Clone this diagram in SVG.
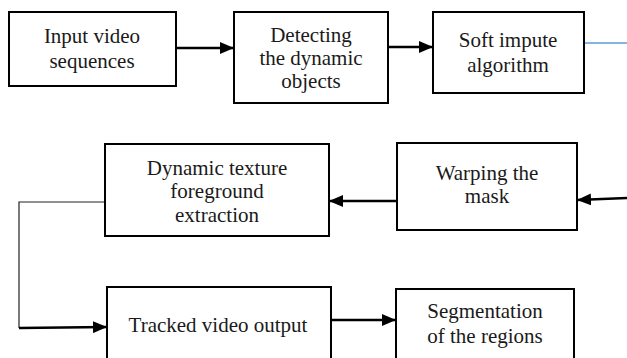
<svg xmlns="http://www.w3.org/2000/svg" width="627" height="358" viewBox="0 0 627 358">
<style>
.box{fill:#fff;stroke:#000;stroke-width:2}
.lbl{font-size:21px;fill:#1a1a1a;text-anchor:middle}
.con{fill:none;stroke:#000;stroke-width:2.5}
.thin{fill:none;stroke:#222;stroke-width:1.2}
</style>
<defs>
<marker id="ah" markerWidth="14" markerHeight="12" refX="14" refY="6" orient="auto" markerUnits="userSpaceOnUse">
<path d="M0,0 L14,6 L0,12 Z" fill="#000"/>
</marker>
</defs>
<rect width="627" height="358" fill="#fff"/>
<g id="connectors">
<line class="con" x1="176" y1="48" x2="234" y2="48" marker-end="url(#ah)"/>
<line class="con" x1="388" y1="47" x2="433" y2="47" marker-end="url(#ah)"/>
<line x1="584" y1="43" x2="627" y2="43" stroke="#5b9bd5" stroke-width="1.5"/>
<line class="con" x1="627" y1="198" x2="577" y2="200" marker-end="url(#ah)"/>
<line class="con" x1="397" y1="201" x2="329" y2="201" marker-end="url(#ah)"/>
<polyline class="thin" points="105,202 19,202 19,328"/>
<line class="con" x1="19" y1="328" x2="107" y2="327" marker-end="url(#ah)"/>
<line class="con" x1="331" y1="320" x2="396" y2="320" marker-end="url(#ah)"/>
</g>
<g font-family="'Liberation Serif', 'Times New Roman', Times, serif">
<g id="n1">
<rect class="box" x="9" y="12" width="167" height="74"/>
<text class="lbl" x="92" y="43">Input video</text>
<text class="lbl" x="92" y="68">sequences</text>
</g>
<g id="n2">
<rect class="box" x="234" y="12" width="154" height="91"/>
<text class="lbl" x="311" y="42">Detecting</text>
<text class="lbl" x="311" y="65">the dynamic</text>
<text class="lbl" x="311" y="88">objects</text>
</g>
<g id="n3">
<rect class="box" x="433" y="12" width="151" height="81"/>
<text class="lbl" x="508" y="47">Soft impute</text>
<text class="lbl" x="508" y="72">algorithm</text>
</g>
<g id="n4">
<rect class="box" x="105" y="144" width="224" height="92"/>
<text class="lbl" x="217" y="175">Dynamic texture</text>
<text class="lbl" x="217" y="198">foreground</text>
<text class="lbl" x="217" y="222">extraction</text>
</g>
<g id="n5">
<rect class="box" x="397" y="143" width="180" height="87"/>
<text class="lbl" x="487" y="180">Warping the</text>
<text class="lbl" x="487" y="203">mask</text>
</g>
<g id="n6">
<rect class="box" x="107" y="287" width="224" height="80"/>
<text class="lbl" x="218" y="332">Tracked video output</text>
</g>
<g id="n7">
<rect class="box" x="396" y="289" width="178" height="80"/>
<text class="lbl" x="485" y="318">Segmentation</text>
<text class="lbl" x="485" y="343">of the regions</text>
</g>
</g>
</svg>
